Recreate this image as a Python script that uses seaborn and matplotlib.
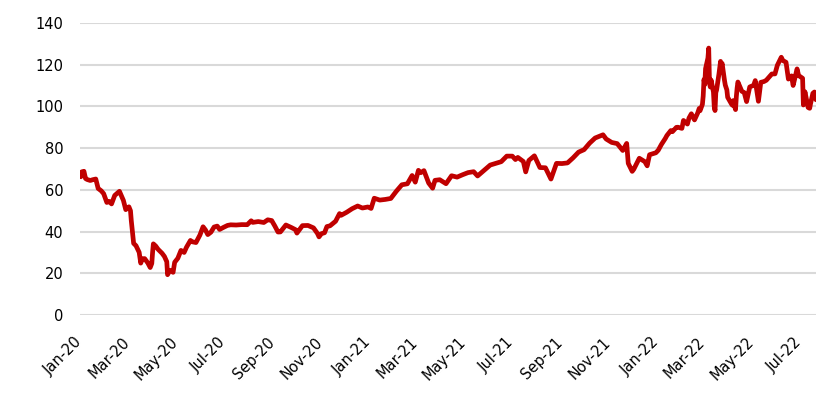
import pandas as pd
import seaborn as sns
import matplotlib.pyplot as plt
import matplotlib.dates as mdates
import matplotlib.transforms as mtransforms

dates = [
    "2020-01-02", "2020-01-03", "2020-01-06", "2020-01-08", "2020-01-10", "2020-01-14", "2020-01-17",
    "2020-01-21", "2020-01-24", "2020-01-28", "2020-01-31", "2020-02-04", "2020-02-07", "2020-02-10",
    "2020-02-14", "2020-02-20", "2020-02-25", "2020-02-28", "2020-03-03", "2020-03-05", "2020-03-06",
    "2020-03-09", "2020-03-12", "2020-03-16", "2020-03-18", "2020-03-20", "2020-03-23", "2020-03-27",
    "2020-03-30", "2020-04-01", "2020-04-02", "2020-04-03", "2020-04-06", "2020-04-09", "2020-04-14",
    "2020-04-17", "2020-04-20", "2020-04-21", "2020-04-24", "2020-04-28", "2020-04-30", "2020-05-04",
    "2020-05-08", "2020-05-12", "2020-05-15", "2020-05-20", "2020-05-22", "2020-05-27", "2020-06-01",
    "2020-06-05", "2020-06-08", "2020-06-11", "2020-06-15", "2020-06-19", "2020-06-23", "2020-06-26",
    "2020-07-01", "2020-07-06", "2020-07-10", "2020-07-17", "2020-07-24", "2020-07-31", "2020-08-05",
    "2020-08-07", "2020-08-14", "2020-08-21", "2020-08-26", "2020-08-31", "2020-09-04", "2020-09-08",
    "2020-09-11", "2020-09-16", "2020-09-18", "2020-09-25", "2020-09-30", "2020-10-02", "2020-10-09",
    "2020-10-16", "2020-10-23", "2020-10-28", "2020-10-30", "2020-11-02", "2020-11-06", "2020-11-09",
    "2020-11-13", "2020-11-20", "2020-11-25", "2020-11-27", "2020-12-04", "2020-12-11", "2020-12-18",
    "2020-12-24", "2020-12-31",
    "2021-01-04", "2021-01-08", "2021-01-15", "2021-01-22", "2021-01-29", "2021-02-05", "2021-02-12",
    "2021-02-19", "2021-02-25", "2021-03-01", "2021-03-05", "2021-03-08", "2021-03-12", "2021-03-18",
    "2021-03-23", "2021-03-26", "2021-04-01", "2021-04-09", "2021-04-16", "2021-04-23", "2021-04-30",
    "2021-05-07", "2021-05-14", "2021-05-19", "2021-05-28", "2021-06-04", "2021-06-11", "2021-06-18",
    "2021-06-25", "2021-07-02", "2021-07-06", "2021-07-09", "2021-07-16", "2021-07-19", "2021-07-23",
    "2021-07-30", "2021-08-06", "2021-08-13", "2021-08-20", "2021-08-27", "2021-09-03", "2021-09-10",
    "2021-09-17", "2021-09-24", "2021-10-01", "2021-10-08", "2021-10-15", "2021-10-25", "2021-10-29",
    "2021-11-05", "2021-11-12", "2021-11-19", "2021-11-24", "2021-11-26", "2021-12-01", "2021-12-03",
    "2021-12-10", "2021-12-17", "2021-12-20", "2021-12-23", "2021-12-31",
    "2022-01-03", "2022-01-07", "2022-01-12", "2022-01-14", "2022-01-19", "2022-01-21", "2022-01-26",
    "2022-01-28", "2022-02-02", "2022-02-04", "2022-02-09", "2022-02-11", "2022-02-14", "2022-02-16",
    "2022-02-18", "2022-02-22", "2022-02-24", "2022-02-25", "2022-02-28", "2022-03-01", "2022-03-02",
    "2022-03-03", "2022-03-04", "2022-03-07", "2022-03-08", "2022-03-09", "2022-03-10", "2022-03-11",
    "2022-03-14", "2022-03-15", "2022-03-16", "2022-03-17", "2022-03-18", "2022-03-21", "2022-03-23",
    "2022-03-24", "2022-03-25", "2022-03-28", "2022-03-29", "2022-03-31", "2022-04-01", "2022-04-06",
    "2022-04-07", "2022-04-08", "2022-04-11", "2022-04-12", "2022-04-13", "2022-04-14", "2022-04-19",
    "2022-04-22", "2022-04-25", "2022-04-29", "2022-05-04", "2022-05-06", "2022-05-10", "2022-05-13",
    "2022-05-17", "2022-05-20", "2022-05-27", "2022-05-31", "2022-06-03", "2022-06-08", "2022-06-10",
    "2022-06-14", "2022-06-17", "2022-06-21", "2022-06-23", "2022-06-28", "2022-06-30", "2022-07-05",
    "2022-07-06", "2022-07-08", "2022-07-12", "2022-07-14", "2022-07-15", "2022-07-18", "2022-07-20",
    "2022-07-22",
]
prices = [
    66.25, 68.60, 68.91, 65.44, 64.98, 64.49, 64.85,
    65.20, 60.69, 59.51, 58.16, 53.96, 54.47, 53.27,
    57.32, 59.31, 54.95, 50.52, 51.86, 49.99, 45.27,
    34.36, 33.22, 30.05, 24.88, 26.98, 27.03, 24.93,
    22.76, 24.74, 29.94, 34.11, 33.05, 31.48, 29.60,
    28.08, 25.57, 19.33, 21.44, 20.46, 25.27, 27.20,
    30.97, 29.98, 32.50, 35.75, 35.13, 34.74, 38.32,
    42.30, 40.80, 38.55, 39.72, 42.19, 42.63, 41.02,
    42.03, 42.95, 43.24, 43.14, 43.34, 43.30, 45.17,
    44.40, 44.80, 44.35, 45.64, 45.28, 42.66, 39.78,
    39.83, 42.22, 43.15, 41.92, 40.95, 39.27, 42.85,
    42.93, 41.77, 39.12, 37.46, 38.97, 39.45, 42.40,
    42.78, 44.96, 48.61, 47.80, 49.25, 50.97, 52.26,
    51.29, 51.80,
    51.09, 55.99, 55.10, 55.41, 55.88, 59.34, 62.43,
    62.91, 66.88, 63.69, 69.36, 68.24, 69.22, 63.28,
    60.79, 64.57, 64.86, 62.95, 66.77, 66.11, 67.25,
    68.28, 68.71, 66.66, 69.63, 71.89, 72.69, 73.51,
    76.18, 76.17, 74.53, 75.55, 73.59, 68.62, 74.10,
    76.33, 70.70, 70.59, 65.18, 72.70, 72.61, 72.92,
    75.34, 78.09, 79.28, 82.39, 84.86, 86.40, 84.38,
    82.74, 82.17, 78.89, 82.25, 72.72, 68.87, 69.88,
    75.15, 73.52, 71.52, 76.85, 77.78,
    78.98, 81.75, 84.67, 86.06, 88.44, 87.89, 89.96,
    90.03, 89.47, 93.27, 91.55, 94.44, 96.48, 94.81,
    93.54, 96.84, 99.08, 97.93, 100.99, 104.97, 112.93,
    110.46, 118.11, 123.21, 127.98, 111.14, 109.33, 112.67,
    106.90, 99.91, 98.02, 106.64, 107.93, 115.62, 121.60,
    119.03, 120.65, 112.48, 110.23, 107.91, 104.39, 101.07,
    100.58, 102.78, 98.48, 104.64, 108.78, 111.70, 107.25,
    106.65, 102.32, 109.34, 110.14, 112.39, 102.46, 111.55,
    111.93, 112.55, 115.56, 115.60, 119.72, 123.58, 122.01,
    121.17, 113.12, 114.65, 110.05, 117.98, 114.81, 113.50,
    100.69, 107.02, 99.49, 99.10, 101.16, 106.27, 106.92,
    103.20,
]

df = pd.DataFrame({"date": pd.to_datetime(dates), "price": prices})

sns.set_style("white")
plt.rcParams["font.family"] = ["DejaVu Sans"]

fig = plt.figure(figsize=(8.39, 3.98), dpi=100)
ax = fig.add_axes([80 / 839, 1 - 315 / 398, 736 / 839, 292 / 398])

sns.lineplot(data=df, x="date", y="price", color="#C00000", linewidth=3.4, ax=ax)

ax.set_ylim(0, 140)
ax.set_yticks(range(0, 141, 20))
ax.set_xlim(pd.Timestamp("2020-01-01"), df["date"].iloc[-1])
ax.xaxis.set_major_locator(mdates.MonthLocator(bymonth=[1, 3, 5, 7, 9, 11]))
ax.xaxis.set_major_formatter(mdates.DateFormatter("%b-%y"))

ax.yaxis.grid(True, color="#d9d9d9", linewidth=1.5)
ax.xaxis.grid(False)
ax.set_axisbelow(True)
for s in ax.spines.values():
    s.set_visible(False)

ax.tick_params(axis="y", length=0, pad=12, labelsize=10.5, labelcolor="#000000")
ax.tick_params(axis="x", length=0, pad=14, labelsize=10.5, labelcolor="#000000")
shift = mtransforms.ScaledTranslation(5 / 100, 0, fig.dpi_scale_trans)
for lab in ax.get_xticklabels():
    lab.set_rotation(45)
    lab.set_ha("right")
    lab.set_transform(lab.get_transform() + shift)

ax.set_xlabel("")
ax.set_ylabel("")

fig.savefig("out.png", dpi=100)
